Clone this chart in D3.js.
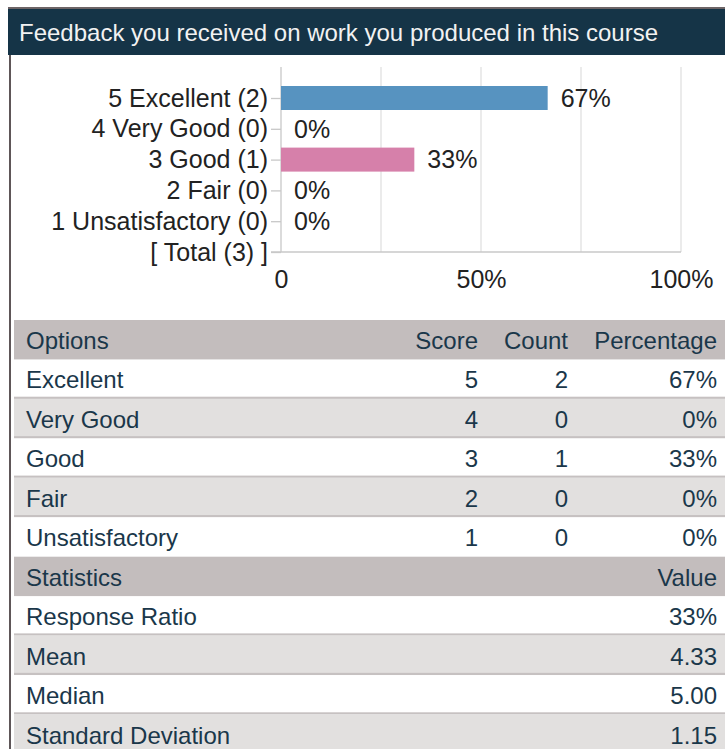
<!DOCTYPE html>
<html>
<head>
<meta charset="utf-8">
<script src="https://cdn.jsdelivr.net/npm/d3@7"></script>
<style>
  body { margin: 0; background: #fff; }
  svg { display: block; font-family: "Liberation Sans", Arial, sans-serif; }
</style>
</head>
<body>
<div class="svg-div"></div>
<script>
// chart data
const titleText = "Feedback you received on work you produced in this course"
const scores = [5, 4, 3, 2, 1]
const options = ["Excellent", "Very Good", "Good", "Fair", "Unsatisfactory"]
const counts = [2, 0, 1, 0, 0]
const percents = ["67%", "0%", "33%", "0%", "0%"]
const total = 3
const xTickValues = [0, 0.5, 1]
const xTickLabels = ["0", "50%", "100%"]
const gridValues = [0, 0.25, 0.5, 0.75, 1]
const tableHeader = ["Options", "Score", "Count", "Percentage"]
const statHeader = ["Statistics", "Value"]
const statNames = ["Response Ratio", "Mean", "Median", "Standard Deviation"]
const statValues = ["33%", "4.33", "5.00", "1.15"]

const barColor = {5: "#5793c0", 3: "#d680aa"}

const W = 725, H = 749
const svg = d3.select(".svg-div").append("svg")
    .attr("width", W).attr("height", H)

// header band
svg.append("rect").attr("x", 8).attr("y", 7).attr("width", W - 8).attr("height", 2).attr("fill", "#6d6466")
svg.append("rect").attr("x", 8).attr("y", 9).attr("width", W - 8).attr("height", 46).attr("fill", "#153447")
svg.append("rect").attr("x", 9).attr("y", 55).attr("width", 2).attr("height", H - 55).attr("fill", "#5e5658")
svg.append("text").attr("x", 19).attr("y", 41)
    .attr("fill", "#f2f2f2").style("font-size", "24px")
    .text(titleText)

// bar chart
let catLabels = scores.map((s, i) => s + " " + options[i] + " (" + counts[i] + ")")
catLabels.push("[ Total (" + total + ") ]")

let xScale = d3.scaleLinear().domain([0, 1]).range([281, 681])
let yScale = d3.scalePoint().domain(catLabels).range([98, 252])
let barH = 24
let chartFont = "25px"

let gGrid = svg.append("g")
gGrid.selectAll("line").data(gridValues).join("line")
    .attr("x1", d => xScale(d)).attr("x2", d => xScale(d))
    .attr("y1", 67).attr("y2", 252)
    .attr("stroke", d => d === 0 ? "#c8c8c8" : "#e0e0e0")
    .attr("stroke-width", 1.3)

let yAxis = d3.axisLeft(yScale).tickSize(10).tickPadding(3)
let gy = svg.append("g").attr("transform", "translate(" + xScale(0) + ",0)").call(yAxis)
gy.select(".domain").remove()
gy.selectAll(".tick line").attr("stroke", "#c8c8c8").attr("stroke-width", 1.3)
gy.selectAll(".tick text").attr("fill", "#222").style("font-size", chartFont)
    .attr("font-family", null)

svg.append("line").attr("x1", 271).attr("x2", xScale(1))
    .attr("y1", 252).attr("y2", 252).attr("stroke", "#c8c8c8").attr("stroke-width", 1.3)

let xAxis = d3.axisBottom(xScale).tickValues(xTickValues)
    .tickFormat((d, i) => xTickLabels[i]).tickSize(0).tickPadding(18)
let gx = svg.append("g").attr("transform", "translate(0,252)").call(xAxis)
gx.select(".domain").remove()
gx.selectAll(".tick text").attr("fill", "#222").style("font-size", chartFont)
    .attr("font-family", null)

let barData = scores.map((s, i) => ({label: catLabels[i], score: s, value: counts[i] / total, pct: percents[i]}))
let gBars = svg.append("g")
gBars.selectAll("rect").data(barData.filter(d => d.value > 0)).join("rect")
    .attr("x", xScale(0))
    .attr("y", d => yScale(d.label) - barH / 2)
    .attr("width", d => xScale(d.value) - xScale(0))
    .attr("height", barH)
    .attr("fill", d => barColor[d.score])
gBars.selectAll("text").data(barData).join("text")
    .attr("x", d => xScale(d.value) + 13)
    .attr("y", d => yScale(d.label))
    .attr("dy", "0.35em")
    .attr("fill", "#222").style("font-size", chartFont)
    .text(d => d.pct)

// table
let rowTop = 320, rowH = 39.45, tLeft = 14
let colRight = [null, 478, 568, 717]
let rows = []
rows.push({type: "head", cells: tableHeader})
options.forEach((o, i) => rows.push({type: "data", cells: [o, String(scores[i]), String(counts[i]), percents[i]]}))
rows.push({type: "head", cells: [statHeader[0], null, null, statHeader[1]]})
statNames.forEach((n, i) => rows.push({type: "data", cells: [n, null, null, statValues[i]]}))

let k = 0
rows.forEach((r, i) => {
    let y0 = rowTop + i * rowH
    let fill
    if (r.type === "head") { fill = "#c3bdbd"; k = 0 }
    else { fill = (k % 2 === 0) ? "#ffffff" : "#e2e0df"; k++ }
    r.y0 = y0; r.fill = fill
})

let gRows = svg.append("g").selectAll("g").data(rows).join("g")
    .attr("transform", d => "translate(0," + d.y0 + ")")
gRows.append("rect").attr("x", tLeft).attr("y", 0)
    .attr("width", W - tLeft).attr("height", rowH + 0.5)
    .attr("fill", d => d.fill)
gRows.filter((d, i) => d.type === "data" && rows[i + 1] && rows[i + 1].type === "data")
    .append("rect").attr("x", tLeft).attr("y", rowH - 2.2)
    .attr("width", W - tLeft).attr("height", 2.2).attr("fill", "#c6c1c1")
gRows.each(function(d) {
    let g = d3.select(this)
    d.cells.forEach((c, j) => {
        if (c === null) return
        g.append("text")
            .attr("x", j === 0 ? 26 : colRight[j])
            .attr("y", 29)
            .attr("text-anchor", j === 0 ? "start" : "end")
            .attr("fill", "#1a374a")
            .style("font-size", "24px")
            .text(c)
    })
})
</script>
</body>
</html>
